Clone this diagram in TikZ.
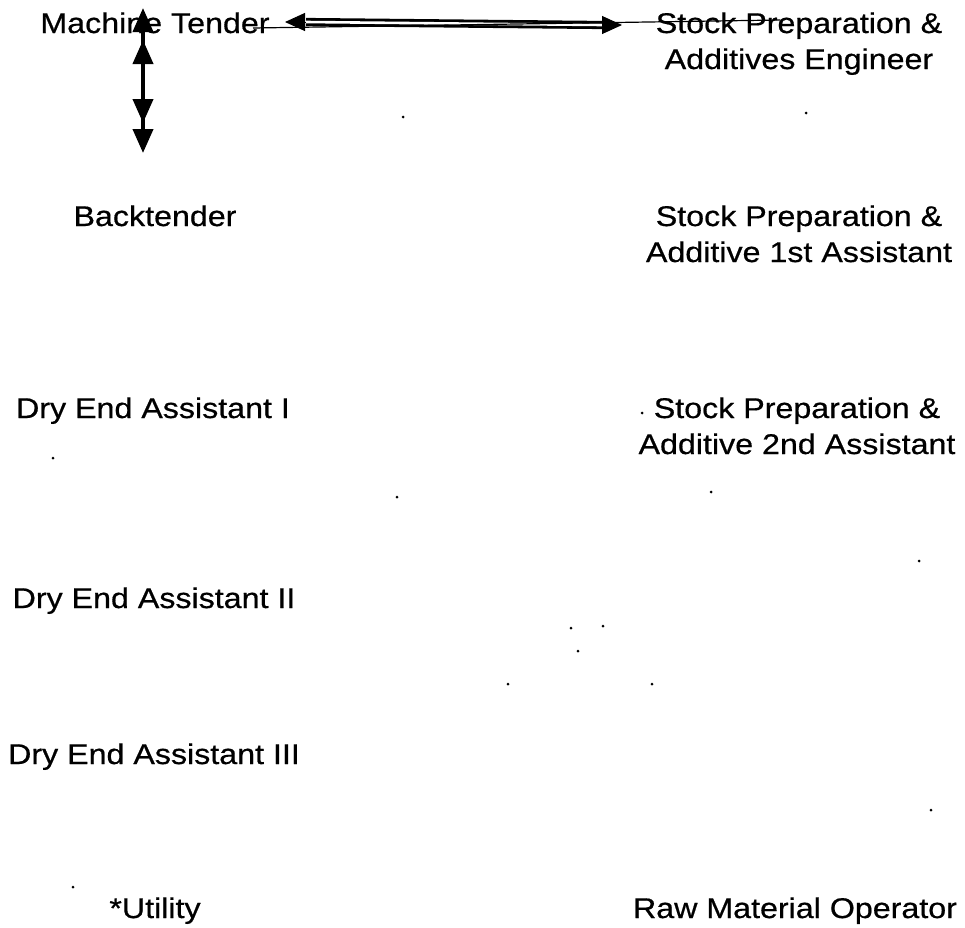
\documentclass[tikz,border=0pt]{standalone}
\usepackage{fontspec}
\setmainfont{Liberation Sans}[FakeStretch=1.13,FakeBold=0.6]
\usetikzlibrary{arrows.meta}
\tikzset{
  lbl/.style={anchor=base, inner sep=0pt, align=center, font=\fontsize{28.5}{36}\selectfont},
  varrow/.style={line width=4pt, {Triangle[length=24pt,width=20pt]}-{Triangle[length=24pt,width=20pt]}},
  dbl/.style={double, line width=2.8pt, double distance=2.6pt},
  htip/.style={line width=1pt, -{Triangle[length=20pt,width=18pt]}},
  thin/.style={line width=1.2pt}
}
\begin{document}
\begin{tikzpicture}[x=1pt,y=-1pt]
\useasboundingbox (0,0) rectangle (965,927);
% left column
\node[lbl] (mt) at (155,33) {Machine Tender};
\node[lbl] (bt) at (155,226) {Backtender};
\node[lbl] (d1) at (153,418) {Dry End Assistant I};
\node[lbl] (d2) at (154,608) {Dry End Assistant II};
\node[lbl] (d3) at (154,764) {Dry End Assistant III};
\node[lbl] (ut) at (155,918) {*Utility};
% right column (base anchor = last line)
\node[lbl] (se) at (799,69) {Stock Preparation \&\\Additives Engineer};
\node[lbl] (s1) at (799,262) {Stock Preparation \&\\Additive 1st Assistant};
\node[lbl] (s2) at (797,454) {Stock Preparation \&\\Additive 2nd Assistant};
\node[lbl] (rm) at (795,918) {Raw Material Operator};
% vertical arrows between Machine Tender and Backtender
\coordinate (va1) at (143,8);
\coordinate (vb1) at (143,123);
\coordinate (va2) at (143,40);
\coordinate (vb2) at (143,153);
\draw[varrow] (va1) -- (vb1);
\draw[varrow] (va2) -- (vb2);
% horizontal double arrow between Machine Tender and Stock Preparation
\coordinate (ltip) at (285,22);
\coordinate (lbase) at (306,22);
\coordinate (rbase) at (602,25);
\coordinate (rtip) at (622,25);
\draw[dbl] (lbase) -- (rbase);
\draw[htip] (lbase) -- (ltip);
\draw[htip] (rbase) -- (rtip);
\coordinate (tl) at (253,28);
\coordinate (tr) at (780,20);
\draw[thin] (tl) -- (tr);
% scan specks
\foreach \x/\y in {397/497, 711/492, 919/561, 571/628, 603/626, 578/651, 508/684, 652/684, 931/810, 53/458, 642/413, 403/117, 806/113, 73/887}
  \fill (\x,\y) circle (1.5pt);
\end{tikzpicture}
\end{document}
